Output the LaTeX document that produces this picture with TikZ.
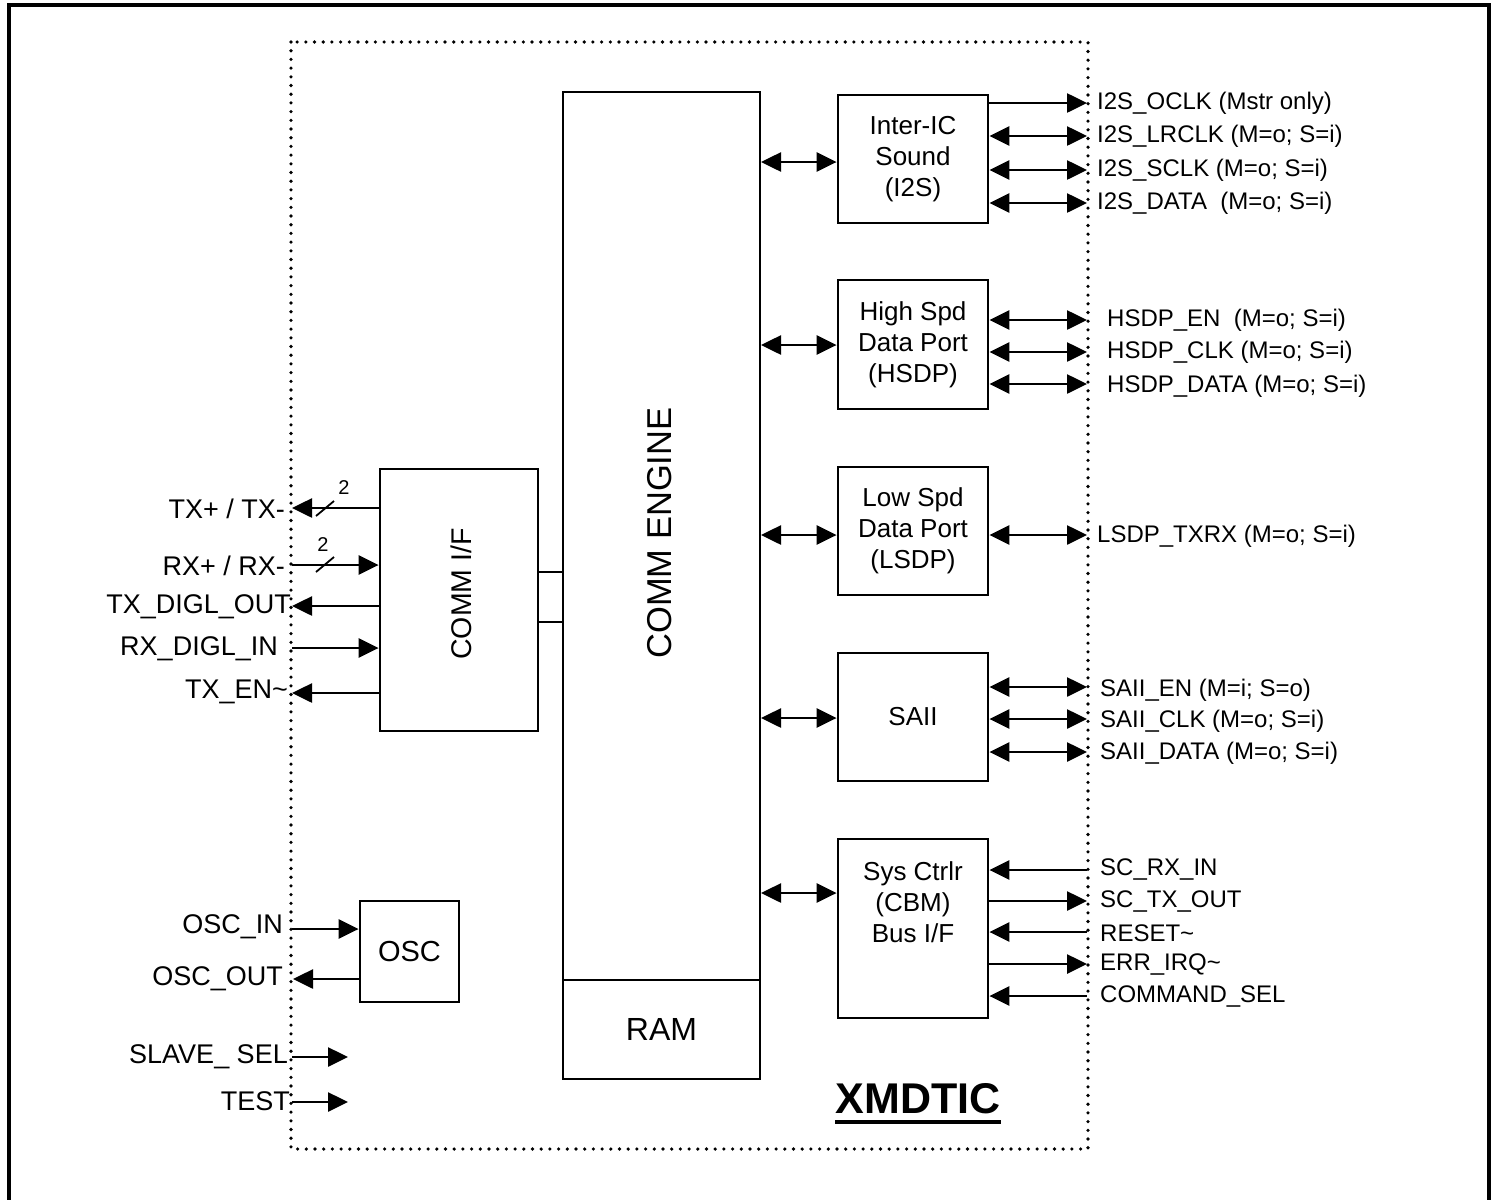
\documentclass[tikz,border=0pt]{standalone}
\usepackage{fontspec}
\setmainfont{Liberation Sans}
\usetikzlibrary{arrows.meta}
\tikzset{
  blk/.style={draw, line width=2.8pt, minimum width=150pt, minimum height=128pt, align=center, inner sep=0pt, font=\fontsize{26}{31}\selectfont},
  plainbox/.style={draw, line width=2.8pt, inner sep=0pt},
  sig/.style={line width=2.6pt, -{Triangle[length=20pt,width=19pt]}},
  bidir/.style={line width=2.6pt, {Triangle[length=20pt,width=19pt]}-{Triangle[length=20pt,width=19pt]}},
  lblL/.style={font=\fontsize{27}{27}\selectfont, inner sep=0pt, anchor=east},
  lblR/.style={font=\fontsize{24}{24}\selectfont, inner sep=0pt, anchor=west},
  buswidth/.style={font=\fontsize{20}{20}\selectfont, inner sep=0pt},
  dotbox/.style={line width=3.6pt, line cap=round, dash pattern=on 0pt off 8.7pt},
}
\begin{document}
\begin{tikzpicture}[x=1pt,y=-1pt]
\clip (0,0) rectangle (1492,1200);
% outer frame
\draw[line width=3.4pt] (9,5) rectangle (1489,1260);
% chip boundary
\draw[dotbox] (291,42) rectangle (1088,1149);

% central engine and RAM
\node[plainbox, minimum width=197pt, minimum height=888pt] (eng) at (661.5,536) {};
\node[rotate=90, font=\fontsize{34.5}{34.5}\selectfont, inner sep=0pt] (engtxt) at (660,533) {COMM ENGINE};
\node[plainbox, minimum width=197pt, minimum height=99pt, font=\fontsize{32}{32}\selectfont] (ram) at (661.5,1029.5) {RAM};

% COMM I/F
\node[plainbox, minimum width=158pt, minimum height=262pt] (cif) at (459,600) {};
\node[rotate=90, font=\fontsize{28.5}{28.5}\selectfont, inner sep=0pt] (ciftxt) at (461,594) {COMM I/F};
\coordinate (cA) at (538,572);
\coordinate (cB) at (538,622);
\draw[line width=2.8pt] (cA) -- (eng.west |- cA);
\draw[line width=2.8pt] (cB) -- (eng.west |- cB);

% OSC
\node[plainbox, minimum width=99pt, minimum height=101pt, font=\fontsize{29}{29}\selectfont] (osc) at (409.5,951.5) {OSC};

% right-hand blocks
\node[blk] (i2s) at (913,159) {Inter-IC\\Sound\\(I2S)};
\node[blk, minimum height=129pt] (hsdp) at (913,344.5) {High Spd\\Data Port\\(HSDP)};
\node[blk] (lsdp) at (913,531) {Low Spd\\Data Port\\(LSDP)};
\node[blk] (saii) at (913,717) {SAII};
\node[blk, minimum height=179pt] (sys) at (913,928.5) {};
\node[align=center, inner sep=0pt, font=\fontsize{26}{31}\selectfont] (systxt) at (913,902) {Sys Ctrlr\\(CBM)\\Bus I/F};

% engine <-> blocks
\foreach \b/\y in {i2s/162, hsdp/345, lsdp/535, saii/718, sys/893}{
  \coordinate (e\b) at (761,\y);
  \draw[bidir] (e\b) -- (\b.west |- e\b);
}

% ---------- left signals ----------
\coordinate (bTX) at (292,508);
\node[lblL] (lTX) at (285,509) {TX+ / TX-};
\draw[sig] (cif.west |- bTX) -- (bTX);
\draw[line width=1.8pt] (316,516) -- (334,501);
\node[buswidth] (nTX) at (344,488) {2};

\coordinate (bRX) at (292,565);
\node[lblL] (lRX) at (285,566) {RX+ / RX-};
\draw[sig] (bRX) -- (cif.west |- bRX);
\draw[line width=1.8pt] (316,572) -- (334,557);
\node[buswidth] (nRX) at (323,545) {2};

\coordinate (bTXD) at (292,606);
\node[lblL] (lTXD) at (291,607) {TX\_DIGL\_OUT};
\draw[sig] (cif.west |- bTXD) -- (bTXD);

\coordinate (bRXD) at (292,648);
\node[lblL] (lRXD) at (278,649) {RX\_DIGL\_IN};
\draw[sig] (bRXD) -- (cif.west |- bRXD);

\coordinate (bTXE) at (292,693);
\node[lblL] (lTXE) at (288,692) {TX\_EN\textasciitilde};
\draw[sig] (cif.west |- bTXE) -- (bTXE);

\coordinate (bOI) at (292,929);
\node[lblL] (lOI) at (283,927) {OSC\_IN};
\draw[sig] (bOI) -- (osc.west |- bOI);

\coordinate (bOO) at (293,979);
\node[lblL] (lOO) at (283,979) {OSC\_OUT};
\draw[sig] (osc.west |- bOO) -- (bOO);

\coordinate (bSS) at (292,1057);
\coordinate (tSS) at (348,1057);
\node[lblL] (lSS) at (288,1057) {SLAVE\_ SEL};
\draw[sig] (bSS) -- (tSS);

\coordinate (bTE) at (292,1102);
\coordinate (tTE) at (348,1102);
\node[lblL] (lTE) at (290,1101) {TEST};
\draw[sig] (bTE) -- (tTE);

% ---------- right signals ----------
% I2S
\coordinate (r1) at (1087,103);
\draw[sig] (i2s.east |- r1) -- (r1);
\node[lblR] (t1) at (1097,103) {I2S\_OCLK (Mstr only)};
\coordinate (r2) at (1087,136);
\draw[bidir] (i2s.east |- r2) -- (r2);
\node[lblR] (t2) at (1097,136) {I2S\_LRCLK (M=o; S=i)};
\coordinate (r3) at (1087,170);
\draw[bidir] (i2s.east |- r3) -- (r3);
\node[lblR] (t3) at (1097,170) {I2S\_SCLK (M=o; S=i)};
\coordinate (r4) at (1087,203);
\draw[bidir] (i2s.east |- r4) -- (r4);
\node[lblR] (t4) at (1097,203) {I2S\_DATA\ \ (M=o; S=i)};

% HSDP
\coordinate (r5) at (1087,320);
\draw[bidir] (hsdp.east |- r5) -- (r5);
\node[lblR] (t5) at (1107,320) {HSDP\_EN\ \ (M=o; S=i)};
\coordinate (r6) at (1087,352);
\draw[bidir] (hsdp.east |- r6) -- (r6);
\node[lblR] (t6) at (1107,352) {HSDP\_CLK (M=o; S=i)};
\coordinate (r7) at (1087,384);
\draw[bidir] (hsdp.east |- r7) -- (r7);
\node[lblR] (t7) at (1107,386) {HSDP\_DATA (M=o; S=i)};

% LSDP
\coordinate (r8) at (1087,535);
\draw[bidir] (lsdp.east |- r8) -- (r8);
\node[lblR] (t8) at (1097,536) {LSDP\_TXRX (M=o; S=i)};

% SAII
\coordinate (r9) at (1087,687);
\draw[bidir] (saii.east |- r9) -- (r9);
\node[lblR] (t9) at (1100,690) {SAII\_EN (M=i; S=o)};
\coordinate (r10) at (1087,719);
\draw[bidir] (saii.east |- r10) -- (r10);
\node[lblR] (t10) at (1100,721) {SAII\_CLK (M=o; S=i)};
\coordinate (r11) at (1087,752);
\draw[bidir] (saii.east |- r11) -- (r11);
\node[lblR] (t11) at (1100,753) {SAII\_DATA (M=o; S=i)};

% Sys Ctrlr
\coordinate (r12) at (1087,870);
\draw[sig] (r12) -- (sys.east |- r12);
\node[lblR] (t12) at (1100,869) {SC\_RX\_IN};
\coordinate (r13) at (1087,901);
\draw[sig] (sys.east |- r13) -- (r13);
\node[lblR] (t13) at (1100,901) {SC\_TX\_OUT};
\coordinate (r14) at (1087,932);
\draw[sig] (r14) -- (sys.east |- r14);
\node[lblR] (t14) at (1100,933) {RESET\textasciitilde};
\coordinate (r15) at (1087,964);
\draw[sig] (sys.east |- r15) -- (r15);
\node[lblR] (t15) at (1100,964) {ERR\_IRQ\textasciitilde};
\coordinate (r16) at (1087,996);
\draw[sig] (r16) -- (sys.east |- r16);
\node[lblR] (t16) at (1100,996) {COMMAND\_SEL};

% title
\node[inner sep=0pt, font=\bfseries\fontsize{43}{43}\selectfont] (title) at (918,1098.5) {XMDTIC};
\draw[line width=4.5pt] ([yshift=-8pt]title.south west) -- ([yshift=-8pt]title.south east);
\end{tikzpicture}
\end{document}
